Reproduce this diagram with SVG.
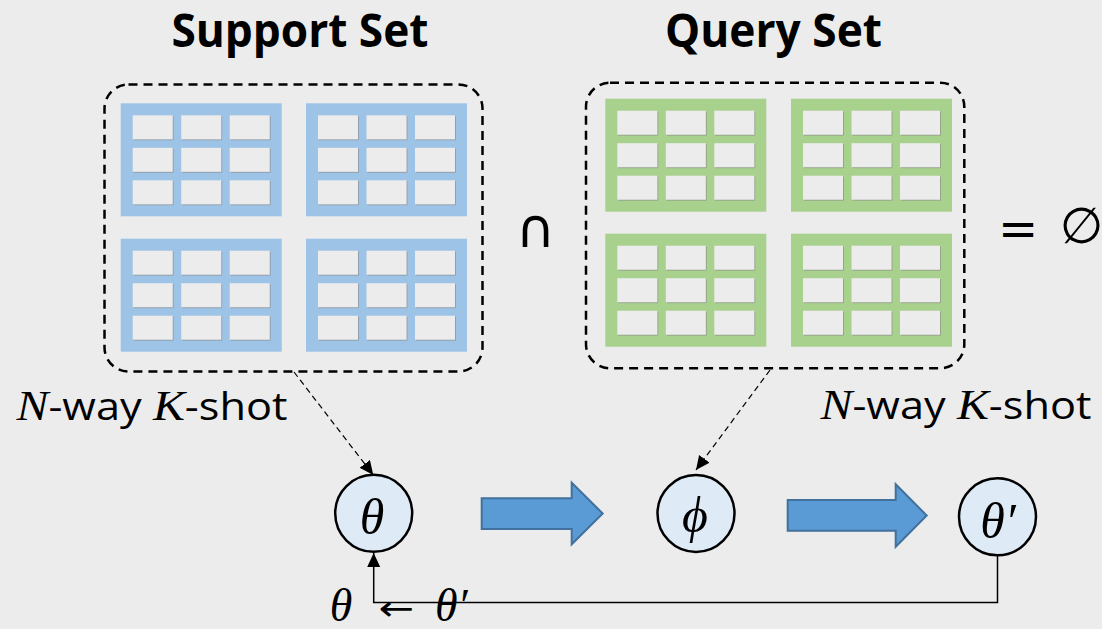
<svg xmlns="http://www.w3.org/2000/svg" xmlns:xlink="http://www.w3.org/1999/xlink" width="1102" height="629" viewBox="0 0 1102 629">
  <style>
    .title { font-family: "Open Sans", "Liberation Sans", sans-serif; font-weight: 700; font-size: 46px; fill: #000; }
    .label { font-family: "Open Sans", "Liberation Sans", sans-serif; font-size: 38px; fill: #000; }
    .math { font-family: "Liberation Serif", "DejaVu Serif", serif; font-style: italic; fill: #000; }
    .sym { font-family: "DejaVu Sans", "Liberation Sans", sans-serif; fill: #000; }
    .setbox { fill: none; stroke: #000; stroke-width: 2.5; stroke-dasharray: 9 6; }
    .cell { fill: #ececec; }
    .blue { fill: #9dc3e6; }
    .green { fill: #a9d18e; }
    .node { fill: #deebf7; stroke: #000; stroke-width: 2.5; }
    .dashlink { fill: none; stroke: #000; stroke-width: 1.2; stroke-dasharray: 6 4; }
    .link { fill: none; stroke: #000; stroke-width: 1.5; }
    .block { fill: #5b9bd5; stroke: #41719c; stroke-width: 2; }
  </style>
  <defs>
    <filter id="inset" x="-10%" y="-10%" width="130%" height="130%">
      <feDropShadow dx="0.8" dy="0.8" stdDeviation="0.4" flood-color="#8a8a8a" flood-opacity="0.8"/>
    </filter>
    <!-- 3 x 3 grid of cells for one table, 161 x 113 -->
    <g id="cells" filter="url(#inset)">
      <rect class="cell" x="12" y="12" width="40" height="24"/>
      <rect class="cell" x="60.5" y="12" width="40" height="24"/>
      <rect class="cell" x="109" y="12" width="40" height="24"/>
      <rect class="cell" x="12" y="44.5" width="40" height="24"/>
      <rect class="cell" x="60.5" y="44.5" width="40" height="24"/>
      <rect class="cell" x="109" y="44.5" width="40" height="24"/>
      <rect class="cell" x="12" y="77" width="40" height="24"/>
      <rect class="cell" x="60.5" y="77" width="40" height="24"/>
      <rect class="cell" x="109" y="77" width="40" height="24"/>
    </g>
    <g id="blueTable">
      <rect class="blue" x="0" y="0" width="161" height="113"/>
      <use xlink:href="#cells"/>
    </g>
    <g id="greenTable">
      <rect class="green" x="0" y="0" width="161" height="113"/>
      <use xlink:href="#cells"/>
    </g>
    <marker id="head" markerUnits="userSpaceOnUse" markerWidth="16" markerHeight="14" refX="14" refY="6.5" orient="auto">
      <path d="M0,0 L14,6.5 L0,13 Z" fill="#000"/>
    </marker>
  </defs>

  <rect x="0" y="0" width="1102" height="629" fill="#ececec"/>

  <!-- support set -->
  <g id="support-set">
    <text class="title" x="171.5" y="47" textLength="257" lengthAdjust="spacingAndGlyphs">Support Set</text>
    <rect class="setbox" x="104.5" y="84.5" width="378" height="287" rx="24"/>
    <use xlink:href="#blueTable" x="120.7" y="103.3"/>
    <use xlink:href="#blueTable" x="306" y="103.3"/>
    <use xlink:href="#blueTable" x="120.7" y="238.7"/>
    <use xlink:href="#blueTable" x="306" y="238.7"/>
    <text class="label" x="16.5" y="420" textLength="271" lengthAdjust="spacingAndGlyphs"><tspan class="math" font-size="42">N</tspan>-way <tspan class="math" font-size="42">K</tspan>-shot</text>
  </g>

  <!-- intersection sign -->
  <g id="intersect">
    <text class="sym" x="535.5" y="247" font-size="54" text-anchor="middle">∩</text>
  </g>

  <!-- query set -->
  <g id="query-set">
    <text class="title" x="665" y="47" textLength="217" lengthAdjust="spacingAndGlyphs">Query Set</text>
    <rect class="setbox" x="586" y="82.7" width="378.3" height="285.6" rx="24"/>
    <use xlink:href="#greenTable" x="605.3" y="98.7"/>
    <use xlink:href="#greenTable" x="791" y="98.7"/>
    <use xlink:href="#greenTable" x="605.3" y="233.7"/>
    <use xlink:href="#greenTable" x="791" y="233.7"/>
    <text class="label" x="820.5" y="418.5" textLength="271" lengthAdjust="spacingAndGlyphs"><tspan class="math" font-size="42">N</tspan>-way <tspan class="math" font-size="42">K</tspan>-shot</text>
  </g>

  <!-- equals empty set -->
  <g id="empty">
    <text class="sym" x="1018" y="245" font-size="48" text-anchor="middle">=</text>
    <text class="sym" x="1081.5" y="243" font-size="50" text-anchor="middle">∅</text>
  </g>

  <!-- parameter nodes -->
  <g id="theta">
    <circle class="node" cx="373.7" cy="513.3" r="38.5"/>
    <text class="math" x="372" y="534" font-size="50" text-anchor="middle">θ</text>
  </g>
  <g id="phi">
    <circle class="node" cx="696" cy="513.5" r="38.5"/>
    <text class="math" x="695" y="532" font-size="50" text-anchor="middle">ϕ</text>
  </g>
  <g id="theta-prime">
    <circle class="node" cx="997.5" cy="516.8" r="38.5"/>
    <text class="math" x="998" y="537.5" font-size="50" text-anchor="middle">θ′</text>
  </g>

  <!-- update rule -->
  <g id="update">
    <text class="math" x="341" y="621" font-size="46" text-anchor="middle">θ</text>
    <text class="sym" transform="translate(396,620) scale(1.25,1)" font-size="34" text-anchor="middle">←</text>
    <text class="math" x="435" y="621" font-size="46">θ′</text>
  </g>

  <!-- connectors -->
  <g id="connectors">
    <path class="dashlink" d="M294,372 L373.3,475" marker-end="url(#head)"/>
    <path class="dashlink" d="M770,370 L696,470" marker-end="url(#head)"/>
    <path class="block" d="M481.7,498.3 H571.7 V482.7 L602.7,513.5 L571.7,544.3 V529 H481.7 Z"/>
    <path class="block" d="M787.7,500 H895.7 V484.3 L926.7,515.5 L895.7,546.7 V530.7 H787.7 Z"/>
    <path class="link" d="M997.5,555.3 V602.5 H373.7 V553" marker-end="url(#head)"/>
  </g>
</svg>
